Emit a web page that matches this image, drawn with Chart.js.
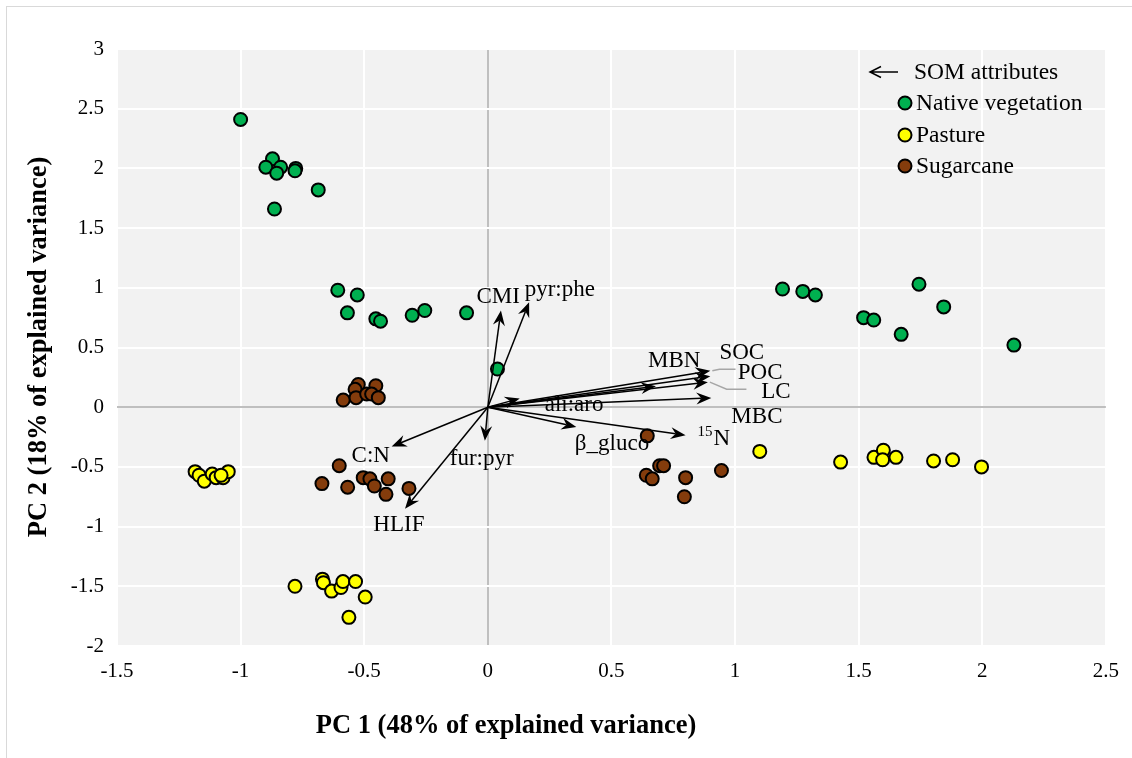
<!DOCTYPE html>
<html>
<head>
<meta charset="utf-8">
<title>PCA biplot</title>
<script src="https://cdn.jsdelivr.net/npm/chart.js@4.4.1/dist/chart.umd.min.js"></script>
<style>
    html, body { margin: 0; padding: 0; background: #fff; }
    #wrap { width: 1132px; height: 758px; }
</style>
</head>
<body>
<div id="wrap"><canvas id="pcaChart" width="1132" height="758"></canvas></div>
<script>
// Sample scores (PC1, PC2) per land use
const nativeVeg = [
    [-1.00, 2.41], [-0.871, 2.08], [-0.898, 2.01], [-0.838, 2.01], [-0.854, 1.96],
    [-0.777, 2.00], [-0.780, 1.98], [-0.686, 1.82], [-0.863, 1.66],
    [-0.607, 0.98], [-0.528, 0.94], [-0.568, 0.79], [-0.453, 0.74], [-0.434, 0.72],
    [-0.306, 0.77], [-0.255, 0.81], [-0.086, 0.79], [0.039, 0.32],
    [1.192, 0.99], [1.274, 0.97], [1.325, 0.94], [1.520, 0.75], [1.561, 0.73],
    [1.744, 1.03], [1.844, 0.84], [1.672, 0.61], [2.128, 0.52]
];
const pasture = [
    [-1.184, -0.54], [-1.168, -0.57], [-1.147, -0.62], [-1.115, -0.56], [-1.099, -0.59],
    [-1.071, -0.59], [-1.050, -0.54], [-1.079, -0.57],
    [-0.780, -1.50], [-0.669, -1.44], [-0.665, -1.47], [-0.632, -1.54], [-0.594, -1.51],
    [-0.586, -1.46], [-0.535, -1.46], [-0.496, -1.59], [-0.562, -1.76],
    [1.100, -0.37], [1.427, -0.46], [1.562, -0.42], [1.600, -0.36], [1.597, -0.44],
    [1.651, -0.42], [1.803, -0.45], [1.880, -0.44], [1.997, -0.50]
];
const sugarcane = [
    [-0.524, 0.19], [-0.537, 0.15], [-0.453, 0.18], [-0.585, 0.06], [-0.533, 0.08],
    [-0.490, 0.11], [-0.470, 0.11], [-0.443, 0.08],
    [-0.601, -0.49], [-0.567, -0.67], [-0.504, -0.59], [-0.477, -0.60], [-0.459, -0.66],
    [-0.403, -0.60], [-0.412, -0.73], [-0.319, -0.68], [-0.671, -0.64],
    [0.645, -0.24], [0.641, -0.57], [0.665, -0.60], [0.695, -0.49], [0.711, -0.49],
    [0.800, -0.59], [0.795, -0.75], [0.945, -0.53]
];

// SOM attribute loadings (arrow tips)
const vectorNames = ['CMI', 'pyr:phe', 'MBN', 'SOC', 'POC', 'LC', 'MBC', 'ali:aro', 'β_gluco', '15N', 'C:N', 'fur:pyr', 'HLIF'];
const vectorX = [0.053, 0.167, 0.68, 0.90, 0.90, 0.89, 0.904, 0.129, 0.358, 0.80, -0.389, -0.012, -0.335];
const vectorY = [0.81, 0.88, 0.175, 0.26, 0.305, 0.21, 0.078, 0.073, -0.165, -0.235, -0.33, -0.28, -0.85];
// where each name sits (left edge, baseline) in axis units
const labelX = [-0.046, 0.149, 0.648, 0.937, 1.011, 1.106, 0.985, 0.230, 0.352, 0.848, -0.551, -0.154, -0.463];
const labelY = [0.869, 0.930, 0.338, 0.400, 0.232, 0.073, -0.131, -0.031, -0.360, -0.318, -0.458, -0.486, -1.039];
// grey leader lines for the crowded labels
const leaderLines = {
    'POC': [[0.937, 0.318], [1.002, 0.318]],
    'LC': [[0.966, 0.151], [1.046, 0.151]]
};

const xTicks = [-1.5, -1, -0.5, 0, 0.5, 1, 1.5, 2, 2.5];
const yTicks = [-2, -1.5, -1, -0.5, 0, 0.5, 1, 1.5, 2, 2.5, 3];

const groupNames = ['Native vegetation', 'Pasture', 'Sugarcane'];
const groupColors = ['#00b050', '#ffff00', '#843c0c'];

const SERIF = '"Liberation Serif", "Times New Roman", serif';

function toPoints(list) {
    return list.map(p => ({ x: p[0], y: p[1] }));
}

function drawArrow(ctx, x0, y0, x1, y1) {
    const ang = Math.atan2(y1 - y0, x1 - x0);
    const len = 15, half = 6, notch = 10;
    ctx.beginPath();
    ctx.moveTo(x0, y0);
    ctx.lineTo(x1 - Math.cos(ang) * notch, y1 - Math.sin(ang) * notch);
    ctx.stroke();
    ctx.save();
    ctx.translate(x1, y1);
    ctx.rotate(ang);
    ctx.beginPath();
    ctx.moveTo(0, 0);
    ctx.lineTo(-len, -half);
    ctx.lineTo(-notch, 0);
    ctx.lineTo(-len, half);
    ctx.closePath();
    ctx.fill();
    ctx.restore();
}

const biplotDecor = {
    id: 'biplotDecor',
    beforeDraw(chart) {
        const { ctx, chartArea: a } = chart;
        ctx.save();
        ctx.fillStyle = '#ffffff';
        ctx.fillRect(0, 0, chart.width, chart.height);
        ctx.strokeStyle = '#d9d9d9';
        ctx.lineWidth = 1;
        ctx.strokeRect(6.5, 6.5, chart.width, chart.height);
        ctx.fillStyle = '#f2f2f2';
        ctx.fillRect(a.left, a.top, a.right - a.left, a.bottom - a.top);
        ctx.restore();
    },
    afterDatasetsDraw(chart) {
        const { ctx } = chart;
        const sx = chart.scales.x, sy = chart.scales.y;
        const ox = sx.getPixelForValue(0), oy = sy.getPixelForValue(0);

        ctx.save();
        ctx.fillStyle = '#000';
        ctx.textAlign = 'left';
        ctx.textBaseline = 'alphabetic';

        // attribute names
        vectorNames.forEach((name, i) => {
            const lx = sx.getPixelForValue(labelX[i]);
            const ly = sy.getPixelForValue(labelY[i]);
            if (name === '15N') {
                ctx.font = '15px ' + SERIF;
                ctx.fillText('15', lx, ly - 9);
                const w = ctx.measureText('15').width;
                ctx.font = '23px ' + SERIF;
                ctx.fillText('N', lx + w + 1, ly);
            } else {
                ctx.font = '23px ' + SERIF;
                ctx.fillText(name, lx, ly);
            }
        });

        // leader lines
        ctx.strokeStyle = '#a6a6a6';
        ctx.lineWidth = 1.5;
        Object.keys(leaderLines).forEach(name => {
            const i = vectorNames.indexOf(name);
            ctx.beginPath();
            ctx.moveTo(sx.getPixelForValue(vectorX[i]) + 2, sy.getPixelForValue(vectorY[i]));
            leaderLines[name].forEach(p => ctx.lineTo(sx.getPixelForValue(p[0]), sy.getPixelForValue(p[1])));
            ctx.stroke();
        });

        // loading arrows
        ctx.strokeStyle = '#000';
        ctx.lineWidth = 1.5;
        vectorNames.forEach((name, i) => {
            drawArrow(ctx, ox, oy, sx.getPixelForValue(vectorX[i]), sy.getPixelForValue(vectorY[i]));
        });

        // legend
        ctx.font = '23.5px ' + SERIF;
        ctx.textBaseline = 'middle';
        ctx.lineWidth = 1.5;
        ctx.beginPath();
        ctx.moveTo(898, 72);
        ctx.lineTo(871, 72);
        ctx.moveTo(881, 66.5);
        ctx.lineTo(870, 72);
        ctx.lineTo(881, 77.5);
        ctx.stroke();
        ctx.fillText('SOM attributes', 914, 73);
        const rows = [103, 135, 166];
        groupNames.forEach((name, i) => {
            ctx.beginPath();
            ctx.arc(905, rows[i], 6.5, 0, Math.PI * 2);
            ctx.fillStyle = groupColors[i];
            ctx.fill();
            ctx.lineWidth = 2;
            ctx.strokeStyle = '#000';
            ctx.stroke();
            ctx.fillStyle = '#000';
            ctx.fillText(name, 916, rows[i] + 1);
        });

        // axis titles
        ctx.font = 'bold 26.5px ' + SERIF;
        ctx.textAlign = 'center';
        ctx.fillText('PC 1 (48% of explained variance)', 506, 726);
        ctx.translate(39, 347);
        ctx.rotate(-Math.PI / 2);
        ctx.fillText('PC 2 (18% of explained variance)', 0, 0);
        ctx.restore();
    }
};

function gridColor(c) {
    return c.tick && c.tick.value === 0 ? '#bfbfbf' : '#ffffff';
}

const pcaChart = new Chart(document.getElementById('pcaChart'), {
    type: 'scatter',
    data: {
        datasets: [nativeVeg, pasture, sugarcane].map((list, i) => ({
            label: groupNames[i],
            data: toPoints(list),
            backgroundColor: groupColors[i],
            borderColor: '#000000',
            borderWidth: 2,
            pointRadius: 6.5,
            pointHoverRadius: 6.5
        }))
    },
    options: {
        responsive: false,
        animation: false,
        devicePixelRatio: 1,
        layout: { padding: { left: 0, top: 49, right: 26, bottom: 72 } },
        plugins: {
            legend: { display: false },
            tooltip: { enabled: false }
        },
        scales: {
            x: {
                type: 'linear',
                min: -1.5,
                max: 2.5,
                afterBuildTicks: scale => { scale.ticks = xTicks.map(v => ({ value: v })); },
                afterFit: scale => { scale.height = 40; },
                border: { display: false },
                grid: { color: gridColor, lineWidth: 2, drawTicks: false },
                ticks: {
                    color: '#000',
                    padding: 13,
                    maxRotation: 0,
                    font: { family: SERIF, size: 21 },
                    callback: v => String(v)
                }
            },
            y: {
                type: 'linear',
                min: -2,
                max: 3,
                afterBuildTicks: scale => { scale.ticks = yTicks.map(v => ({ value: v })); },
                afterFit: scale => { scale.width = 117; },
                border: { display: false },
                grid: { color: gridColor, lineWidth: 2, drawTicks: false },
                ticks: {
                    color: '#000',
                    padding: 13,
                    font: { family: SERIF, size: 21 },
                    callback: v => String(v)
                }
            }
        }
    },
    plugins: [biplotDecor]
});
</script>
</body>
</html>
